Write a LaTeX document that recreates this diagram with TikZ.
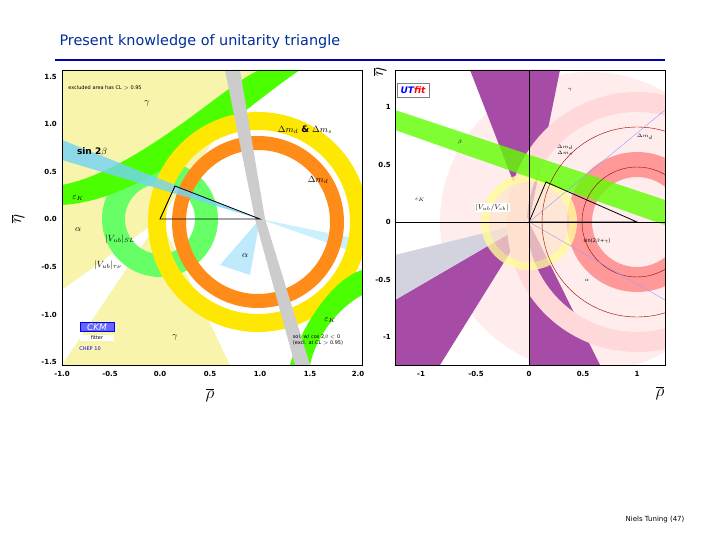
\documentclass[tikz,border=0pt]{standalone}
\usepackage{fontspec}
\setsansfont{DejaVu Sans}
\begin{document}
\begin{tikzpicture}[x=1pt,y=-1pt,
  lbl/.style={font=\sffamily\small\bfseries,inner sep=1pt},
  tick/.style={font=\sffamily\scriptsize\bfseries,inner sep=1pt},
  rl/.style={font=\sffamily\tiny,inner sep=1pt},
  ring/.style={even odd rule}]
\useasboundingbox (0,0) rectangle (720,540);
\node[anchor=west,font=\sffamily\Large,text=blue!70!cyan!60!black] (title) at (56,42) {Present knowledge of unitarity triangle};
\draw[blue!70!black,line width=2pt] (55,60) -- (665,60);
% ---------- left plot ----------
\begin{scope}
\clip (62,70) rectangle (362,365);
\fill[white] (62,70) rectangle (362,365);
\fill[brown!25!yellow!35] (160,219) -- (62,290) -- (62,70) -- (262,70) -- cycle;
\fill[brown!25!yellow!35] (160,219) -- (62,365) -- (230,365) -- cycle;
\fill[cyan!20] (260,219) -- (362,240) -- (362,255) -- cycle;
\fill[cyan!25] (260,219) -- (250,275) -- (220,265) -- cycle;
\fill[green!60,ring] (160,219) circle (58) (160,219) circle (35);
\fill[green!70!yellow] (62,185) .. controls (140,170) and (230,80) .. (260,70) -- (300,70) .. controls (240,110) and (150,200) .. (62,205) -- cycle;
\fill[yellow!90!orange,ring] (258,222) circle (110) (258,222) circle (92);
\fill[orange!90,ring] (258,222) circle (86) (258,222) circle (72);
\fill[cyan!55,opacity=.8] (260,219) -- (62,140) -- (62,160) -- cycle;
\fill[green!70!yellow] (290,365) .. controls (300,330) and (330,280) .. (362,270) -- (362,295) .. controls (335,310) and (315,340) .. (310,365) -- cycle;
\fill[gray!40] (255,219) -- (225,70) -- (240,70) -- (265,219) -- (310,365) -- (295,365) -- cycle;
\draw[thick] (160,219) -- (260,219) -- (175,186) -- cycle;
\draw (160,219) -- (175,186);
\end{scope}
\draw (62,70) rectangle (362,365);
\foreach \v/\y in {1.5/77,1.0/124,0.5/172,0.0/219,-0.5/267,-1.0/315,-1.5/362}
  \node[tick,anchor=east] at (58,\y) {\v};
\foreach \v/\x in {-1.0/62,-0.5/110,0.0/160,0.5/210,1.0/260,1.5/310,2.0/358}
  \node[tick] at (\x,374) {\v};
\node[font=\LARGE] (rhoL) at (210,395) {$\overline{\rho}$};
\node[font=\LARGE,rotate=90] (etaL) at (18,219) {$\overline{\eta}$};
\node[lbl] (g1) at (147,103) {$\gamma$};
\node[lbl] (s2b) at (92,152) {sin 2$\beta$};
\node[lbl] (ek1) at (78,198) {$\varepsilon_K$};
\node[lbl] (a1) at (78,230) {$\alpha$};
\node[lbl] (vub) at (120,239) {$|V_{ub}|_{SL}$};
\node[lbl] (vub2) at (108,265) {$|V_{ub}|_{\tau\nu}$};
\node[lbl] (dmd) at (305,130) {$\Delta m_d$ \& $\Delta m_s$};
\node[lbl] (dm) at (318,180) {$\Delta m_d$};
\node[lbl] (a2) at (245,256) {$\alpha$};
\node[lbl] (ek2) at (330,320) {$\varepsilon_K$};
\node[lbl] (g2) at (175,337) {$\gamma$};
\node[font=\sffamily\tiny] (exc) at (105,88) {excluded area has CL $>$ 0.95};
\node[draw=blue,fill=blue!60,text=white,font=\sffamily\small\itshape,minimum width=34pt,inner sep=1pt] (ckm) at (97,327) {CKM};
\node[font=\sffamily\tiny,fill=white,minimum width=34pt,inner sep=1pt] (fit) at (97,338) {fitter};
\node[font=\sffamily\tiny,text=blue] (ep) at (90,349) {CHEP 10};
\node[font=\sffamily\tiny,align=left] (sol) at (318,340) {sol. w/ cos 2$\beta$ $<$ 0\\(excl. at CL $>$ 0.95)};
% ---------- right plot ----------
\begin{scope}
\clip (395,70) rectangle (665,365);
\fill[white] (395,70) rectangle (665,365);
\fill[pink!30] (590,222) circle (150);
\fill[violet!70] (529,222) -- (470,70) -- (560,70) -- cycle;
\fill[violet!70] (529,222) -- (530,365) -- (600,365) -- cycle;
\fill[violet!70] (529,222) -- (395,300) -- (395,365) -- (440,365) -- cycle;
\fill[blue!15!gray!30] (529,222) -- (395,255) -- (395,300) -- cycle;
\fill[red!40,ring] (637,222) circle (70) (637,222) circle (45);
\fill[pink!60,ring] (637,222) circle (130) (637,222) circle (110);
\fill[orange!20,opacity=.7] (529,222) circle (40);
\fill[yellow!40,ring,opacity=.8] (529,222) circle (48) (529,222) circle (40);
\fill[green!50!lime,opacity=.8] (395,110) -- (665,200) -- (665,225) -- (395,130) -- cycle;
\draw[red!60!black] (637,222) circle (95);
\draw[red!60!black] (637,222) circle (55);
\draw[blue!40] (529,222) -- (665,110) (529,222) -- (665,300);
\draw[thick] (529,222) -- (637,222) -- (546,182) -- cycle;
\draw (395,222) -- (665,222) (529,70) -- (529,365);
\end{scope}
\draw (395,70) rectangle (665,365);
\foreach \v/\y in {1/107,0.5/165,0/222,-0.5/280,-1/337}
  \node[tick,anchor=east] at (392,\y) {\v};
\foreach \v/\x in {-1/421,-0.5/476,0/529,0.5/583,1/637}
  \node[tick] at (\x,374) {\v};
\node[font=\LARGE] (rhoR) at (660,393) {$\overline{\rho}$};
\node[font=\LARGE,rotate=90] (etaR) at (380,72) {$\overline{\eta}$};
\node[draw=gray,fill=white,font=\sffamily\small\bfseries\itshape,text=blue] (utf) at (413,90) {UT\textcolor{red}{fit}};
\node[rl] at (570,90) {$\gamma$};
\node[rl] at (460,142) {$\beta$};
\node[rl,align=center] at (565,150) {$\Delta m_d$\\$\Delta m_s$};
\node[rl] at (645,137) {$\Delta m_d$};
\node[rl] at (420,200) {$\varepsilon_K$};
\node[fill=white,font=\sffamily\scriptsize,inner sep=1pt] (vv) at (492,208) {$|V_{ub}/V_{cb}|$};
\node[rl] at (597,241) {sin(2$\beta$+$\gamma$)};
\node[rl] at (587,280) {$\alpha$};
\node[font=\sffamily\scriptsize] (nt) at (655,520) {Niels Tuning (47)};
\end{tikzpicture}
\end{document}
